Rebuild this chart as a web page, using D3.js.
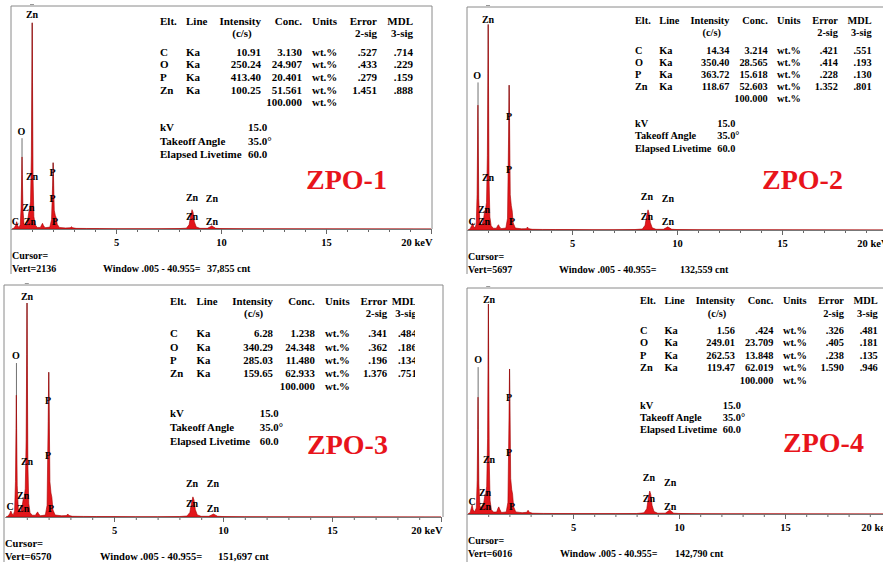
<!DOCTYPE html>
<html>
<head>
<meta charset="utf-8">
<script src="https://cdnjs.cloudflare.com/ajax/libs/d3/7.8.5/d3.min.js"></script>
<style>
body { margin: 0; background: #fff; }
svg { display: block; font-family: "Liberation Serif", "Times New Roman", serif; font-weight: bold; }
</style>
</head>
<body>
<div id="chart"></div>
<script>
// ---- data ----
var samples = ["ZPO-1", "ZPO-2", "ZPO-3", "ZPO-4"];
var elements = ["C", "O", "P", "Zn"];
var lineNames = ["Ka", "Ka", "Ka", "Ka"];
var tableHeader = ["Elt.", "Line", "Intensity", "Conc.", "Units", "Error", "MDL"];
var subHeader = ["(c/s)", "2-sig", "3-sig"];

var intensity = [["10.91", "250.24", "413.40", "100.25"],
                 ["14.34", "350.40", "363.72", "118.67"],
                 ["6.28", "340.29", "285.03", "159.65"],
                 ["1.56", "249.01", "262.53", "119.47"]];
var conc = [["3.130", "24.907", "20.401", "51.561"],
            ["3.214", "28.565", "15.618", "52.603"],
            ["1.238", "24.348", "11.480", "62.933"],
            [".424", "23.709", "13.848", "62.019"]];
var error2sig = [[".527", ".433", ".279", "1.451"],
                 [".421", ".414", ".228", "1.352"],
                 [".341", ".362", ".196", "1.376"],
                 [".326", ".405", ".238", "1.590"]];
var mdl3sig = [[".714", ".229", ".159", ".888"],
               [".551", ".193", ".130", ".801"],
               [".484", ".186", ".134", ".751"],
               [".481", ".181", ".135", ".946"]];
var concTotal = "100.000";
var units = "wt.%";
var conditions = [["kV", "15.0"], ["Takeoff Angle", "35.0\u00b0"], ["Elapsed Livetime", "60.0"]];

var vertCounts = [2136, 5697, 6570, 6016];
var windowCounts = ["37,855", "132,559", "151,697", "142,790"];
var windowText = "Window .005 - 40.955=";
var xTicks = [5, 10, 15, 20];
var minorTicks = d3.range(1, 21);

// spectra: [keV, counts]
var spectrumZPO1 = [
 [0.05,0],[0.15,10],[0.22,35],[0.27,70],[0.32,30],[0.38,15],[0.44,40],[0.48,200],[0.51,520],[0.525,690],[0.54,520],[0.57,180],[0.62,50],[0.70,30],[0.78,60],[0.84,150],[0.88,190],[0.93,260],[0.97,700],[0.995,1500],[1.01,1975],[1.025,1400],[1.05,500],[1.09,120],[1.15,40],[1.25,15],[1.40,15],[1.46,40],[1.50,55],[1.54,35],[1.62,12],[1.85,18],[1.93,90],[1.98,420],[2.005,635],[2.025,500],[2.06,180],[2.11,130],[2.15,110],[2.2,45],[2.3,15],[2.6,10],[2.82,12],[2.88,22],[2.94,12],[3.1,6],[3.6,5],[4.2,4],[5,3],[6,3],[7,3],[8,4],[8.35,8],[8.48,40],[8.56,130],[8.62,185],[8.67,160],[8.73,70],[8.82,20],[9.0,6],[9.35,6],[9.48,20],[9.56,30],[9.64,20],[9.75,6],[10,4],[11,3],[12,2],[20,0]
];
var spectrumZPO2 = [
 [0.05,0],[0.15,30],[0.22,110],[0.27,180],[0.32,90],[0.38,50],[0.44,150],[0.48,900],[0.505,2300],[0.52,3190],[0.535,2300],[0.56,800],[0.61,200],[0.70,120],[0.78,250],[0.84,480],[0.88,520],[0.93,700],[0.97,1900],[0.995,4000],[1.01,5250],[1.025,3700],[1.05,1300],[1.09,330],[1.15,110],[1.25,45],[1.40,45],[1.46,110],[1.50,135],[1.54,90],[1.62,35],[1.85,50],[1.93,300],[1.98,2400],[2.005,3700],[2.025,2900],[2.06,900],[2.11,620],[2.15,500],[2.2,180],[2.3,50],[2.6,30],[2.82,35],[2.88,75],[2.94,35],[3.1,18],[3.6,14],[4.2,12],[5,10],[6,9],[7,9],[8,12],[8.35,25],[8.48,120],[8.56,380],[8.62,515],[8.67,430],[8.73,190],[8.82,55],[9.0,18],[9.35,18],[9.48,55],[9.56,80],[9.64,55],[9.75,18],[10,12],[11,8],[12,6],[20,0]
];
var spectrumZPO3 = [
 [0.05,0],[0.15,30],[0.22,100],[0.27,170],[0.32,90],[0.38,60],[0.44,170],[0.48,1000],[0.505,2500],[0.52,3450],[0.535,2500],[0.56,900],[0.61,230],[0.70,140],[0.78,280],[0.84,520],[0.88,560],[0.93,800],[0.97,2200],[0.995,4600],[1.01,6060],[1.025,4300],[1.05,1500],[1.09,380],[1.15,120],[1.25,50],[1.40,50],[1.46,120],[1.50,140],[1.54,90],[1.62,35],[1.85,55],[1.93,330],[1.98,2700],[2.005,4100],[2.025,3200],[2.06,1000],[2.11,680],[2.15,560],[2.2,200],[2.3,55],[2.6,35],[2.82,40],[2.88,85],[2.94,40],[3.1,20],[3.6,16],[4.2,13],[5,11],[6,10],[7,10],[8,13],[8.35,28],[8.48,130],[8.56,420],[8.62,570],[8.67,480],[8.73,210],[8.82,60],[9.0,20],[9.35,20],[9.48,60],[9.56,85],[9.64,60],[9.75,20],[10,13],[11,9],[12,6],[20,0]
];
var spectrumZPO4 = [
 [0.05,0],[0.15,40],[0.20,150],[0.24,240],[0.29,110],[0.36,60],[0.44,160],[0.48,900],[0.505,2250],[0.52,3110],[0.535,2250],[0.56,800],[0.61,210],[0.70,130],[0.78,260],[0.84,480],[0.88,520],[0.93,740],[0.97,2000],[0.995,4250],[1.01,5590],[1.025,3950],[1.05,1400],[1.09,350],[1.15,115],[1.25,50],[1.40,55],[1.46,150],[1.50,190],[1.54,130],[1.62,40],[1.85,55],[1.93,310],[1.98,2500],[2.005,3860],[2.025,3000],[2.06,950],[2.11,650],[2.15,530],[2.2,190],[2.3,55],[2.6,35],[2.82,45],[2.88,100],[2.94,45],[3.1,20],[3.6,15],[4.2,13],[5,11],[6,10],[7,10],[8,13],[8.35,30],[8.48,140],[8.56,450],[8.62,610],[8.67,520],[8.73,230],[8.82,65],[9.0,20],[9.35,22],[9.48,70],[9.56,105],[9.64,70],[9.75,22],[10,14],[11,9],[12,6],[20,0]
];

// KLM marker lines: [keV, counts]
var markersZPO1 = [[0.525, 870], [1.01, 1975], [2.01, 635]];
var markersZPO2 = [[0.525, 3770], [1.01, 5250], [2.01, 3700]];
var markersZPO3 = [[0.525, 4360], [1.01, 6060], [2.01, 4100]];
var markersZPO4 = [[0.525, 3910], [1.01, 5590], [2.01, 3860]];

// peak labels: [text, keV, counts]
var peakLabelsZPO1 = [["Zn",1.0,1993],["O",0.5,872],["Zn",1.0,450],["P",1.98,479],["P",1.98,230],["Zn",0.83,144],["C",0.21,10],["Zn",0.9,19],["P",2.1,10],["Zn",8.62,249],["Zn",9.57,230],["Zn",8.62,67],["Zn",9.57,10]];
var peakLabelsZPO2 = [["Zn",1.0,5230],["O",0.48,3800],["P",2.0,2750],["P",2.0,1400],["Zn",1.0,1200],["Zn",0.81,380],["Zn",0.81,75],["C",0.24,75],["P",2.14,75],["Zn",8.57,690],["Zn",9.57,660],["Zn",8.57,200],["Zn",9.57,75]];
var peakLabelsZPO3 = [["Zn",1.01,6080],["O",0.5,4390],["P",1.97,3140],["P",1.97,1585],["Zn",1.01,1390],["Zn",0.83,450],["Zn",0.83,57],["C",0.23,140],["P",2.11,57],["Zn",8.58,790],["Zn",9.54,765],["Zn",8.58,200],["Zn",9.54,57]];
var peakLabelsZPO4 = [["Zn",1.04,5560],["O",0.52,3940],["P",1.98,2950],["P",1.98,1490],["Zn",1.04,1280],["Zn",0.85,425],["Zn",0.85,27],["C",0.24,186],["P",2.12,27],["Zn",8.58,800],["Zn",9.58,690],["Zn",8.58,240],["Zn",9.58,27]];

var spectra = [spectrumZPO1, spectrumZPO2, spectrumZPO3, spectrumZPO4];
var markers = [markersZPO1, markersZPO2, markersZPO3, markersZPO4];
var peakLabels = [peakLabelsZPO1, peakLabelsZPO2, peakLabelsZPO3, peakLabelsZPO4];

// ---- layout of each screenshot panel ----
var layout = [
  {left: 11, right: 432, top: 6, base: 229, bottom: 274, keV0: 11, keV20: 431, tx: 160, s: 1, fs: 11, err: 217, mdl: 253,
   rows: [21, 33, 52, 64.6, 77.2, 89.8, 102.4, 127.5, 141, 154.5], title: [306, 189], winX: 103, cntX: 207, foot: 10},
  {left: 467, right: 900, top: 7, base: 230, bottom: 274, keV0: 467, keV20: 887, tx: 635, s: 0.935, fs: 10.3, err: 217, mdl: 253,
   rows: [20, 32.5, 50, 62.2, 74.4, 86.6, 98.8, 123, 135.5, 148], title: [762, 189], winX: 559, cntX: 680, foot: 10},
  {left: 4, right: 443, top: 285, base: 517, bottom: 562, keV0: 5, keV20: 441, tx: 170, s: 1.02, fs: 10.8, err: 213, mdl: 242, clip: 415,
   rows: [301, 313.6, 333.6, 346.8, 360, 373.3, 386.5, 413, 427, 441], title: [307, 454], winX: 100, cntX: 218, foot: 10.5},
  {left: 467, right: 900, top: 288, base: 514, bottom: 562, keV0: 467, keV20: 891, tx: 640, s: 0.94, fs: 10.4, err: 217, mdl: 253,
   rows: [300.5, 313.5, 330, 342.5, 355, 367.5, 380, 405, 417.5, 429], title: [783, 452], winX: 560, cntX: 675, foot: 10}
];

var svg = d3.select("#chart").append("svg")
  .attr("width", 883)
  .attr("height", 562);

function txt(g, x, y, s, anchor) {
  return g.append("text")
    .attr("x", x)
    .attr("y", y)
    .attr("dy", "0.35em")
    .attr("text-anchor", anchor || "start")
    .text(s);
}

function drawPanel(k) {
  var L = layout[k];
  var g = svg.append("g");

  var x = d3.scaleLinear().domain([0, 20]).range([L.keV0, L.keV20]);
  var y = d3.scaleLinear().domain([0, vertCounts[k]]).range([L.base, L.top]);

  // frame of the screenshot
  g.append("path")
    .attr("d", "M" + L.left + "," + L.bottom + "V" + L.top + "H" + L.right + "V" + L.base)
    .attr("fill", "none")
    .attr("stroke", "#8a8a8a")
    .attr("stroke-width", 1);

  // cursor mark on top edge
  g.append("line")
    .attr("x1", x(1.0) - 2).attr("x2", x(1.0) + 2)
    .attr("y1", L.top - 1.5).attr("y2", L.top - 1.5)
    .attr("stroke", "#999");

  // KLM marker lines
  g.selectAll(".marker")
    .data(markers[k])
    .join("line")
    .attr("class", "marker")
    .attr("x1", d => x(d[0])).attr("x2", d => x(d[0]))
    .attr("y1", L.base).attr("y2", d => y(d[1]))
    .attr("stroke", "#707070")
    .attr("stroke-width", 1);

  // spectrum
  var area = d3.area()
    .x(d => x(d[0]))
    .y0(L.base)
    .y1(d => y(d[1]));
  g.append("path")
    .datum(spectra[k])
    .attr("d", area)
    .attr("fill", "#e3161b")
    .attr("stroke", "#a30000")
    .attr("stroke-width", 0.6);

  // peak labels
  g.selectAll(".plabel")
    .data(peakLabels[k])
    .join("text")
    .attr("class", "plabel")
    .attr("x", d => x(d[1]))
    .attr("y", d => y(d[2]) - 2.5)
    .attr("text-anchor", "middle")
    .attr("font-size", 10)
    .text(d => d[0]);

  // x axis: minor ticks then labelled ticks
  var minor = g.append("g")
    .attr("transform", "translate(0," + L.base + ")")
    .call(d3.axisBottom(x).tickValues(minorTicks).tickSize(3).tickSizeOuter(0).tickFormat(""));
  var major = g.append("g")
    .attr("transform", "translate(0," + L.base + ")")
    .call(d3.axisBottom(x).tickValues(xTicks).tickSize(5).tickPadding(5).tickSizeOuter(0)
      .tickFormat(d => d == 20 ? "20 keV" : d));
  [minor, major].forEach(function(a) {
    a.attr("font-family", null).attr("font-size", 10.5);
    a.selectAll("line").attr("stroke", "#666");
    a.select(".domain").attr("stroke", "#777");
    a.selectAll("text").attr("fill", "#000");
  });
  major.selectAll(".tick text")
    .filter(d => d == 20)
    .attr("text-anchor", "end")
    .attr("x", 1);

  // results table
  var t = g.append("g").attr("font-size", L.fs);
  if (L.clip) {
    svg.append("clipPath").attr("id", "clip" + k)
      .append("rect").attr("x", 0).attr("y", L.top).attr("width", L.clip).attr("height", 200);
    t.attr("clip-path", "url(#clip" + k + ")");
  }
  var c = function(v) { return L.tx + v * L.s; };
  var R = L.rows;
  var colPos = [[0, "start"], [26, "start"], [101, "end"], [142, "end"], [152, "start"], [L.err, "end"], [L.mdl, "end"]];
  tableHeader.forEach(function(h, i) { txt(t, c(colPos[i][0]), R[0], h, colPos[i][1]); });
  txt(t, c(82), R[1], subHeader[0], "middle");
  txt(t, c(L.err), R[1], subHeader[1], "end");
  txt(t, c(L.mdl), R[1], subHeader[2], "end");
  elements.forEach(function(el, i) {
    var ry = R[2 + i];
    txt(t, c(0), ry, el);
    txt(t, c(26), ry, lineNames[i]);
    txt(t, c(101), ry, intensity[k][i], "end");
    txt(t, c(142), ry, conc[k][i], "end");
    txt(t, c(152), ry, units);
    txt(t, c(L.err), ry, error2sig[k][i], "end");
    txt(t, c(L.mdl), ry, mdl3sig[k][i], "end");
  });
  txt(t, c(142), R[6], concTotal, "end");
  txt(t, c(152), R[6], units);
  conditions.forEach(function(cd, i) {
    txt(t, c(0), R[7 + i], cd[0]);
    txt(t, c(88), R[7 + i], cd[1]);
  });

  // sample name
  g.append("text")
    .attr("x", L.title[0])
    .attr("y", L.title[1])
    .attr("font-size", 28)
    .attr("fill", "#e8141b")
    .text(samples[k]);

  // footer
  var f = g.append("g").attr("font-size", L.foot);
  txt(f, L.left + 1, L.base + 26, "Cursor=");
  txt(f, L.left + 1, L.base + 39, "Vert=" + vertCounts[k]);
  txt(f, L.winX, L.base + 39, windowText);
  txt(f, L.cntX, L.base + 39, windowCounts[k] + " cnt");
}

for (var k = 0; k < samples.length; k++) {
  drawPanel(k);
}
</script>
</body>
</html>
